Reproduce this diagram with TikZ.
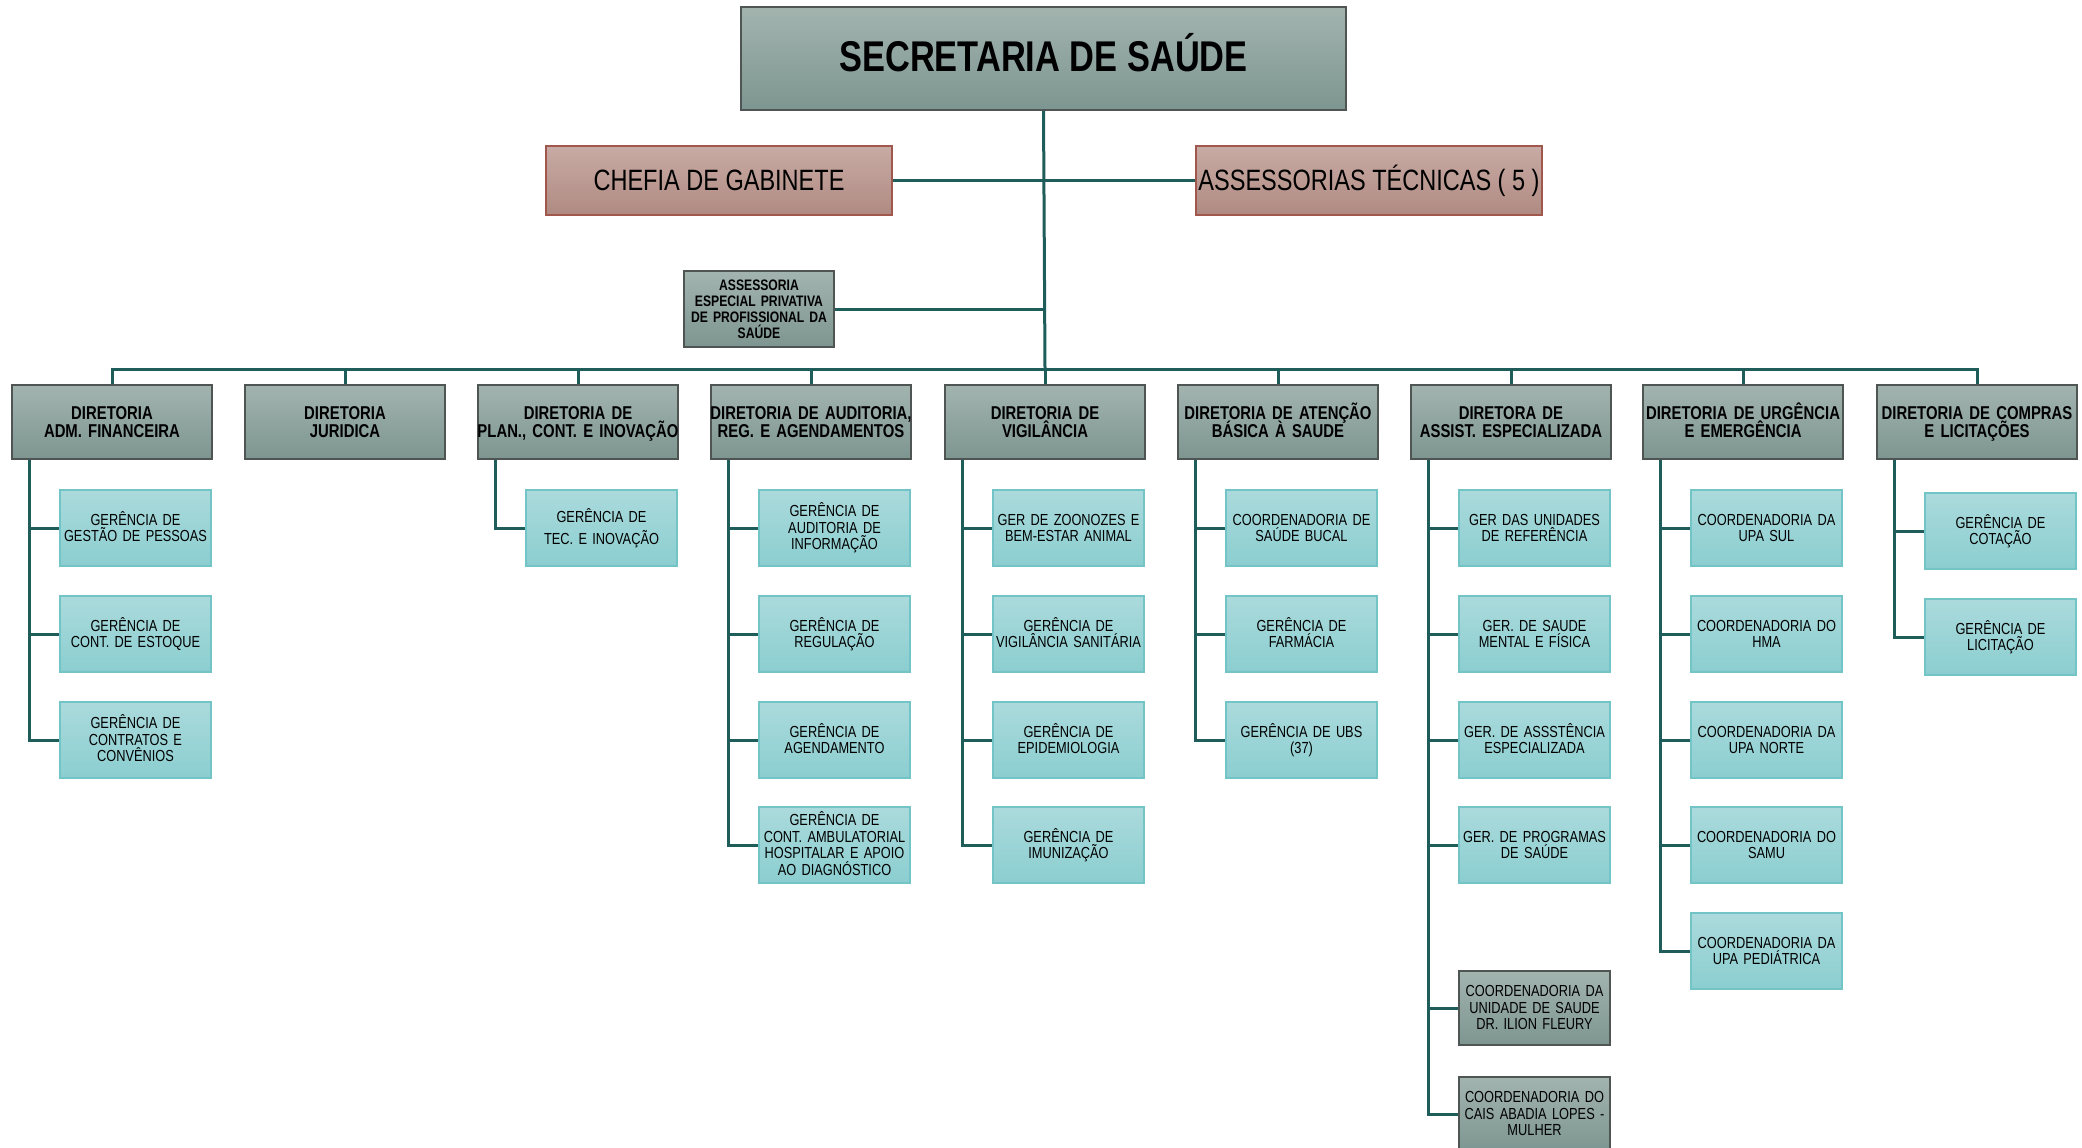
\documentclass[tikz,border=0pt]{standalone}
\usepackage{fontspec}
\setmainfont{Liberation Sans}[FakeStretch=0.8]
\normallineskiplimit=-20pt

\definecolor{linha}{HTML}{1E5D59}
\definecolor{cinzaA}{HTML}{A3B4AF}
\definecolor{cinzaB}{HTML}{7D9590}
\definecolor{cinzaBorda}{HTML}{4F5553}
\definecolor{rosaA}{HTML}{C8ABA4}
\definecolor{rosaB}{HTML}{AF8A82}
\definecolor{rosaBorda}{HTML}{A0574D}
\definecolor{tealA}{HTML}{ABDADC}
\definecolor{tealB}{HTML}{8BCED0}
\definecolor{tealBorda}{HTML}{72C4C7}

\tikzset{
	x=0.5pt, y=-0.5pt,
	caixa/.style={rectangle, align=center, inner sep=0pt, line width=0.8pt,
		execute at begin node=\vphantom{ÊÁ}, execute at end node=\vphantom{Ç}},
	largo/.style={inner xsep=-10pt, text width=#1+20pt},
	cinza/.style={caixa, draw=cinzaBorda, top color=cinzaA, bottom color=cinzaB},
	secretaria/.style={cinza, minimum width=302.5pt, minimum height=51.5pt, font=\bfseries\fontsize{21.5}{24}\selectfont},
	chefia/.style={caixa, draw=rosaBorda, top color=rosaA, bottom color=rosaB, minimum width=173pt, minimum height=34.5pt, font=\fontsize{14.7}{17}\selectfont},
	especial/.style={cinza, largo=75pt, minimum height=38pt, font=\bfseries\fontsize{7.6}{8}\selectfont},
	diretoria/.style={cinza, largo=100pt, minimum height=37pt, font=\bfseries\fontsize{9.3}{8.6}\selectfont},
	gerencia/.style={caixa, draw=tealBorda, top color=tealA, bottom color=tealB, largo=75.5pt, minimum height=38pt, font=\fontsize{8}{8.3}\selectfont},
	coordcinza/.style={cinza, largo=75.5pt, minimum height=37pt, font=\fontsize{8}{8.3}\selectfont},
	ligacao/.style={draw=linha, line width=1.5pt},
}

\begin{document}
\begin{tikzpicture}
	\useasboundingbox[fill=white] (0,0) rectangle (2082,1147);

	\node[secretaria](sec) at (1043.5,58.5) {\raisebox{1.5pt}{SECRETARIA DE SAÚDE}};
	\node[chefia](chefia) at (719,180.5) {CHEFIA DE GABINETE};
	\node[chefia](assess) at (1369,180.5) {ASSESSORIAS TÉCNICAS ( 5 )};
	\node[especial](esp) at (759,309) {ASSESSORIA\\ESPECIAL PRIVATIVA\\DE PROFISSIONAL DA\\SAÚDE};
	\coordinate (bus) at (1045,369);

	\node[diretoria](d1) at (112,422) {DIRETORIA\\ADM. FINANCEIRA};
	\node[diretoria](d2) at (345,422) {DIRETORIA\\JURIDICA};
	\node[diretoria](d3) at (578,422) {DIRETORIA DE\\PLAN., CONT. E INOVAÇÃO};
	\node[diretoria](d4) at (811,422) {DIRETORIA DE AUDITORIA,\\REG. E AGENDAMENTOS};
	\node[diretoria](d5) at (1045,422) {DIRETORIA DE\\VIGILÂNCIA};
	\node[diretoria](d6) at (1278,422) {DIRETORIA DE ATENÇÃO\\BÁSICA À SAUDE};
	\node[diretoria](d7) at (1511,422) {DIRETORA DE\\ASSIST. ESPECIALIZADA};
	\node[diretoria](d8) at (1743,422) {DIRETORIA DE URGÊNCIA\\E EMERGÊNCIA};
	\node[diretoria](d9) at (1977,422) {DIRETORIA DE COMPRAS\\E LICITAÇÕES};

	\node[gerencia](g11) at (135.5,528) {GERÊNCIA DE\\GESTÃO DE PESSOAS};
	\node[gerencia](g12) at (135.5,634) {GERÊNCIA DE\\CONT. DE ESTOQUE};
	\node[gerencia](g13) at (135.5,740) {GERÊNCIA DE\\CONTRATOS E\\CONVÊNIOS};

	\node[gerencia](g31) at (601.5,528) {GERÊNCIA DE\\[3pt]TEC. E INOVAÇÃO};

	\node[gerencia](g41) at (834.5,528) {GERÊNCIA DE\\AUDITORIA DE\\INFORMAÇÃO};
	\node[gerencia](g42) at (834.5,634) {GERÊNCIA DE\\REGULAÇÃO};
	\node[gerencia](g43) at (834.5,740) {GERÊNCIA DE\\AGENDAMENTO};
	\node[gerencia](g44) at (834.5,845) {GERÊNCIA DE\\CONT. AMBULATORIAL\\HOSPITALAR E APOIO\\AO DIAGNÓSTICO};

	\node[gerencia](g51) at (1068.5,528) {GER DE ZOONOZES E\\BEM-ESTAR ANIMAL};
	\node[gerencia](g52) at (1068.5,634) {GERÊNCIA DE\\VIGILÂNCIA SANITÁRIA};
	\node[gerencia](g53) at (1068.5,740) {GERÊNCIA DE\\EPIDEMIOLOGIA};
	\node[gerencia](g54) at (1068.5,845) {GERÊNCIA DE\\IMUNIZAÇÃO};

	\node[gerencia](g61) at (1301.5,528) {COORDENADORIA DE\\SAÚDE BUCAL};
	\node[gerencia](g62) at (1301.5,634) {GERÊNCIA DE\\FARMÁCIA};
	\node[gerencia](g63) at (1301.5,740) {GERÊNCIA DE UBS\\(37)};

	\node[gerencia](g71) at (1534.5,528) {GER DAS UNIDADES\\DE REFERÊNCIA};
	\node[gerencia](g72) at (1534.5,634) {GER. DE SAUDE\\MENTAL E FÍSICA};
	\node[gerencia](g73) at (1534.5,740) {GER. DE ASSSTÊNCIA\\ESPECIALIZADA};
	\node[gerencia](g74) at (1534.5,845) {GER. DE PROGRAMAS\\DE SAÚDE};
	\node[coordcinza](g75) at (1534.5,1008) {COORDENADORIA DA\\UNIDADE DE SAUDE\\DR. ILION FLEURY};
	\node[coordcinza](g76) at (1534.5,1114) {COORDENADORIA DO\\CAIS ABADIA LOPES -\\MULHER};

	\node[gerencia](g81) at (1766.5,528) {COORDENADORIA DA\\UPA SUL};
	\node[gerencia](g82) at (1766.5,634) {COORDENADORIA DO\\HMA};
	\node[gerencia](g83) at (1766.5,740) {COORDENADORIA DA\\UPA NORTE};
	\node[gerencia](g84) at (1766.5,845) {COORDENADORIA DO\\SAMU};
	\node[gerencia](g85) at (1766.5,951) {COORDENADORIA DA\\UPA PEDIÁTRICA};

	\node[gerencia](g91) at (2000.5,531) {GERÊNCIA DE\\COTAÇÃO};
	\node[gerencia](g92) at (2000.5,637) {GERÊNCIA DE\\LICITAÇÃO};

	\draw[ligacao] (sec.south) -- (bus);
	\draw[ligacao] (chefia.east) -- (assess.west);
	\draw[ligacao] (esp.east) -- (esp.east -| sec.south);
	\foreach \d in {d1,d2,d3,d4,d5,d6,d7,d8,d9}
		\draw[ligacao] (bus) -| (\d.north);

	\foreach \d/\g in {d1/g11,d1/g12,d1/g13,d3/g31,d4/g41,d4/g42,d4/g43,d4/g44,
		d5/g51,d5/g52,d5/g53,d5/g54,d6/g61,d6/g62,d6/g63,
		d7/g71,d7/g72,d7/g73,d7/g74,d7/g75,d7/g76,
		d8/g81,d8/g82,d8/g83,d8/g84,d8/g85,d9/g91,d9/g92}
		\draw[ligacao] ([xshift=9.3pt]\d.south west) |- (\g.west);
\end{tikzpicture}
\end{document}
